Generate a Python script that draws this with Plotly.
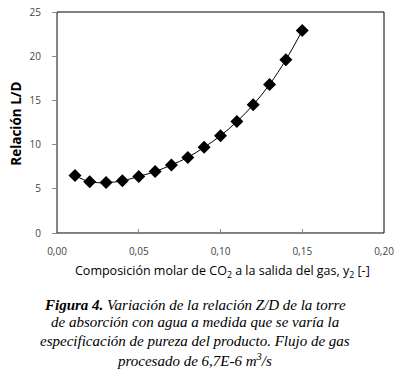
import plotly.graph_objects as go

y2 = [0.011, 0.02, 0.03, 0.04, 0.05, 0.06, 0.07, 0.08, 0.09, 0.10, 0.11, 0.12, 0.13, 0.14, 0.15]
relacion_LD = [6.5, 5.8, 5.7, 5.9, 6.4, 6.95, 7.7, 8.55, 9.7, 11.0, 12.6, 14.5, 16.8, 19.6, 22.9]

x_ticks = [0, 0.05, 0.10, 0.15, 0.20]
x_ticktext = ["0,00", "0,05", "0,10", "0,15", "0,20"]
y_ticks = [0, 5, 10, 15, 20, 25]

caption_lines = [
    "<b>Figura 4.</b> Variación de la relación Z/D de la torre",
    "de absorción con agua a medida que se varía la",
    "especificación de pureza del producto. Flujo de gas",
    "procesado de 6,7E-6 m<sup>3</sup>/s",
]

fig = go.Figure()
fig.add_trace(go.Scatter(
    x=y2, y=relacion_LD, mode="lines+markers",
    line=dict(color="black", width=1, shape="spline"),
    marker=dict(symbol="diamond", size=10, color="black"),
    showlegend=False,
))

fig.add_shape(type="rect", xref="paper", yref="paper", x0=0, y0=0, x1=1, y1=1,
              line=dict(color="black", width=1), layer="below")

tickfont = dict(family="Open Sans, sans-serif", size=10, color="#444")
fig.update_xaxes(range=[0, 0.20], tickvals=x_ticks, ticktext=x_ticktext, automargin=False,
                 ticklabelstandoff=9,
                 showgrid=False, zeroline=False, showline=True, linecolor="#888",
                 ticks="inside", ticklen=4, tickcolor="#888", tickfont=tickfont)
fig.update_yaxes(range=[0, 25], tickvals=y_ticks, automargin=False,
                 ticklabelstandoff=9,
                 showgrid=False, zeroline=False, showline=True, linecolor="#888",
                 ticks="outside", ticklen=4, tickcolor="#888", tickfont=tickfont)

fig.add_annotation(text="Composición molar de CO<sub>2</sub> a la salida del gas, y<sub>2</sub> [-]",
                   xref="paper", yref="paper", x=0.505, y=-0.172, xanchor="center", yanchor="middle",
                   showarrow=False,
                   font=dict(family="Open Sans, sans-serif", size=12.5, color="black"))
fig.add_annotation(text="<b>Relación L/D</b>", textangle=-90,
                   xref="paper", yref="paper", x=-0.128, y=0.495, xanchor="center", yanchor="middle",
                   showarrow=False,
                   font=dict(family="Open Sans, sans-serif", size=13.5, color="black"))

caption_y = [-0.325, -0.403, -0.489, -0.575]
for line, yy in zip(caption_lines, caption_y):
    fig.add_annotation(text="<i>" + line + "</i>", xref="paper", yref="paper",
                       x=0.422, y=yy, xanchor="center", yanchor="middle", showarrow=False,
                       font=dict(family="Liberation Serif, serif", size=15, color="black"))

fig.update_layout(width=400, height=380, margin=dict(l=57, r=16, t=12, b=147),
                  plot_bgcolor="white", paper_bgcolor="white")
fig.write_html("out.html", config={"displayModeBar": False},
               post_script="document.body.style.margin='0';")
